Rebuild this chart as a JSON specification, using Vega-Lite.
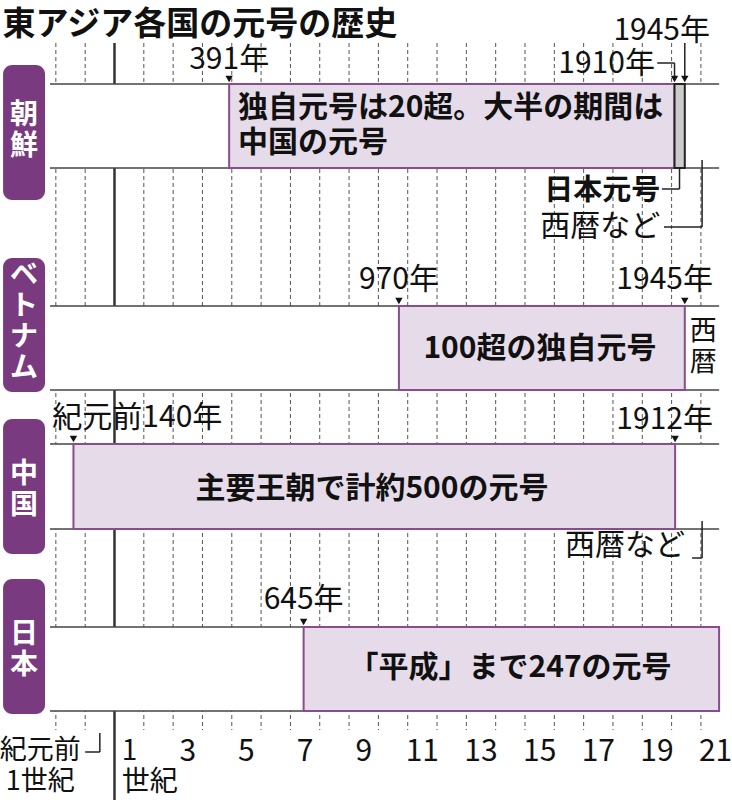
{
  "$schema": "https://vega.github.io/schema/vega-lite/v6.json",
  "width": 732,
  "height": 800,
  "autosize": {"type": "none"},
  "padding": 0,
  "background": "white",
  "config": {"view": {"stroke": null}, "font": "Noto Sans CJK JP"},
  "datasets": {
    "gridlines": [
      {"year": -200, "lane": 43, "lane_end": 730}, {"year": -100, "lane": 43, "lane_end": 730},
      {"year": 100, "lane": 43, "lane_end": 730}, {"year": 200, "lane": 43, "lane_end": 730},
      {"year": 300, "lane": 43, "lane_end": 730}, {"year": 400, "lane": 43, "lane_end": 730},
      {"year": 500, "lane": 43, "lane_end": 730}, {"year": 600, "lane": 43, "lane_end": 730},
      {"year": 700, "lane": 43, "lane_end": 730}, {"year": 800, "lane": 43, "lane_end": 730},
      {"year": 900, "lane": 43, "lane_end": 730}, {"year": 1000, "lane": 43, "lane_end": 730},
      {"year": 1100, "lane": 43, "lane_end": 730}, {"year": 1200, "lane": 43, "lane_end": 730},
      {"year": 1300, "lane": 43, "lane_end": 730}, {"year": 1400, "lane": 43, "lane_end": 730},
      {"year": 1500, "lane": 43, "lane_end": 730}, {"year": 1600, "lane": 43, "lane_end": 730},
      {"year": 1700, "lane": 43, "lane_end": 730}, {"year": 1800, "lane": 43, "lane_end": 730},
      {"year": 1900, "lane": 43, "lane_end": 730}, {"year": 2000, "lane": 43, "lane_end": 730}
    ],
    "epoch": [{"year": 0, "lane": 43, "lane_end": 800}],
    "bands": [
      {"country": "朝鮮", "year": -220, "year_end": 2062, "lane": 84, "lane_end": 168},
      {"country": "ベトナム", "year": -220, "year_end": 2062, "lane": 306, "lane_end": 390},
      {"country": "中国", "year": -220, "year_end": 2062, "lane": 444, "lane_end": 529},
      {"country": "日本", "year": -220, "year_end": 2062, "lane": 627, "lane_end": 711}
    ],
    "band_lines": [
      {"year": -220, "year_end": 2062, "lane": 84}, {"year": -220, "year_end": 2062, "lane": 168},
      {"year": -220, "year_end": 2062, "lane": 306}, {"year": -220, "year_end": 2062, "lane": 390},
      {"year": -220, "year_end": 2062, "lane": 444}, {"year": -220, "year_end": 2062, "lane": 529},
      {"year": -220, "year_end": 2062, "lane": 627}, {"year": -220, "year_end": 2062, "lane": 711}
    ],
    "eras": [
      {"country": "朝鮮", "kind": "元号", "year": 391, "year_end": 1910, "lane": 84, "lane_end": 168},
      {"country": "朝鮮", "kind": "日本元号", "year": 1910, "year_end": 1945, "lane": 84, "lane_end": 168},
      {"country": "ベトナム", "kind": "元号", "year": 970, "year_end": 1945, "lane": 306, "lane_end": 390},
      {"country": "中国", "kind": "元号", "year": -140, "year_end": 1912, "lane": 444, "lane_end": 529},
      {"country": "日本", "kind": "元号", "year": 645, "year_end": 2062, "lane": 627, "lane_end": 711}
    ],
    "country_boxes": [
      {"country": "朝鮮", "year": -380, "year_end": -237, "lane": 65, "lane_end": 200},
      {"country": "ベトナム", "year": -380, "year_end": -237, "lane": 258, "lane_end": 392},
      {"country": "中国", "year": -380, "year_end": -237, "lane": 419, "lane_end": 554},
      {"country": "日本", "year": -380, "year_end": -237, "lane": 579, "lane_end": 714}
    ],
    "country_labels": [
      {"text": "朝\n鮮", "year": -308.7, "lane": 116},
      {"text": "ベ\nト\nナ\nム", "year": -308.7, "lane": 276},
      {"text": "中\n国", "year": -308.7, "lane": 474.5},
      {"text": "日\n本", "year": -308.7, "lane": 634.5}
    ],
    "markers": [
      {"year": 391, "lane": 79}, {"year": 1910, "lane": 79}, {"year": 1945, "lane": 79},
      {"year": 970, "lane": 301}, {"year": 1945, "lane": 301},
      {"year": -140, "lane": 439}, {"year": 1912, "lane": 439},
      {"year": 645, "lane": 622}
    ],
    "leaders": [
      {"year": 1851, "year_end": 1910, "lane": 63, "lane_end": 63},
      {"year": 1910, "year_end": 1910, "lane": 63, "lane_end": 76},
      {"year": 1945, "year_end": 1945, "lane": 43, "lane_end": 76},
      {"year": 1927, "year_end": 1927, "lane": 168, "lane_end": 189},
      {"year": 1867, "year_end": 1927, "lane": 189, "lane_end": 189},
      {"year": 2004, "year_end": 2004, "lane": 160, "lane_end": 227},
      {"year": 1874, "year_end": 2004, "lane": 227, "lane_end": 227},
      {"year": 2004, "year_end": 2004, "lane": 521, "lane_end": 558},
      {"year": 1970, "year_end": 2004, "lane": 558, "lane_end": 558},
      {"year": -50, "year_end": -50, "lane": 733, "lane_end": 752},
      {"year": -100, "year_end": -50, "lane": 752, "lane_end": 752}
    ],
    "notes_center": [
      {"text": "391年", "year": 391, "lane": 60},
      {"text": "970年", "year": 970, "lane": 280},
      {"text": "645年", "year": 645, "lane": 600},
      {"text": "3", "year": 250, "lane": 752},
      {"text": "5", "year": 450, "lane": 752}, {"text": "7", "year": 650, "lane": 752},
      {"text": "9", "year": 850, "lane": 752}, {"text": "11", "year": 1050, "lane": 752},
      {"text": "13", "year": 1250, "lane": 752}, {"text": "15", "year": 1450, "lane": 752},
      {"text": "17", "year": 1650, "lane": 752}, {"text": "19", "year": 1850, "lane": 752},
      {"text": "21", "year": 2050, "lane": 752}
    ],
    "small_center": [
      {"text": "西\n暦", "year": 2008, "lane": 332},
      {"text": "紀元前\n1世紀", "year": -253, "lane": 751}
    ],
    "small_left": [
      {"text": "1\n世紀", "year": 25, "lane": 752}
    ],
    "notes_left": [
      {"text": "紀元前140年", "year": -212, "lane": 418}
    ],
    "notes_right": [
      {"text": "1945年", "year": 2031, "lane": 31},
      {"text": "1910年", "year": 1843, "lane": 64},
      {"text": "1945年", "year": 2041, "lane": 280},
      {"text": "1912年", "year": 2041, "lane": 420},
      {"text": "西暦など", "year": 1861, "lane": 227},
      {"text": "西暦など", "year": 1946, "lane": 546}
    ],
    "era_text_center": [
      {"text": "100超の独自元号", "year": 1451, "lane": 349},
      {"text": "主要王朝で計約500の元号", "year": 878, "lane": 489},
      {"text": "「平成」まで247の元号", "year": 1349, "lane": 668}
    ],
    "era_text_left": [
      {"text": "独自元号は20超。大半の期間は\n中国の元号", "year": 421, "lane": 108}
    ],
    "era_text_right": [
      {"text": "日本元号", "year": 1861, "lane": 191}
    ],
    "title": [
      {"text": "東アジア各国の元号の歴史", "year": -382, "lane": 25}
    ]
  },
  "encoding": {
    "x": {"field": "year", "type": "quantitative", "scale": {"domain": [-390.5, 2106], "nice": false, "zero": false}, "axis": null},
    "y": {"field": "lane", "type": "quantitative", "scale": {"domain": [0, 800], "reverse": true, "nice": false, "zero": false}, "axis": null}
  },
  "layer": [
    {
      "data": {"name": "gridlines"},
      "mark": {"type": "rule", "color": "#555555", "strokeWidth": 1, "strokeDash": [4, 3]},
      "encoding": {"y2": {"field": "lane_end"}}
    },
    {
      "data": {"name": "epoch"},
      "mark": {"type": "rule", "color": "#333333", "strokeWidth": 2.5},
      "encoding": {"y2": {"field": "lane_end"}}
    },
    {
      "data": {"name": "bands"},
      "mark": {"type": "rect", "fill": "white"},
      "encoding": {"x2": {"field": "year_end"}, "y2": {"field": "lane_end"}}
    },
    {
      "data": {"name": "band_lines"},
      "mark": {"type": "rule", "color": "#444444", "strokeWidth": 1.5},
      "encoding": {"x2": {"field": "year_end"}}
    },
    {
      "data": {"name": "eras"},
      "mark": {"type": "rect", "strokeWidth": 2},
      "encoding": {
        "x2": {"field": "year_end"},
        "y2": {"field": "lane_end"},
        "color": {"field": "kind", "type": "nominal", "scale": {"domain": ["元号", "日本元号"], "range": ["#e6dbe9", "#cccccc"]}, "legend": null},
        "stroke": {"field": "kind", "type": "nominal", "scale": {"domain": ["元号", "日本元号"], "range": ["#8a4c8e", "#222222"]}, "legend": null}
      }
    },
    {
      "data": {"name": "country_boxes"},
      "mark": {"type": "rect", "fill": "#7a3a7f", "cornerRadius": 9},
      "encoding": {"x2": {"field": "year_end"}, "y2": {"field": "lane_end"}}
    },
    {
      "data": {"name": "country_labels"},
      "mark": {"type": "text", "color": "white", "fontSize": 28, "fontWeight": "bold", "align": "center", "baseline": "middle", "lineBreak": "\n", "lineHeight": 31},
      "encoding": {"text": {"field": "text"}}
    },
    {
      "data": {"name": "leaders"},
      "mark": {"type": "rule", "color": "#222222", "strokeWidth": 1.5},
      "encoding": {"x2": {"field": "year_end"}, "y2": {"field": "lane_end"}}
    },
    {
      "data": {"name": "markers"},
      "mark": {"type": "point", "shape": "triangle-down", "filled": true, "size": 55, "color": "#111111", "opacity": 1},
      "encoding": {}
    },
    {
      "data": {"name": "notes_center"},
      "mark": {"type": "text", "color": "#111111", "fontSize": 30, "align": "center", "baseline": "middle"},
      "encoding": {"text": {"field": "text"}}
    },
    {
      "data": {"name": "small_center"},
      "mark": {"type": "text", "color": "#111111", "fontSize": 27, "align": "center", "baseline": "middle", "lineBreak": "\n", "lineHeight": 31},
      "encoding": {"text": {"field": "text"}}
    },
    {
      "data": {"name": "small_left"},
      "mark": {"type": "text", "color": "#111111", "fontSize": 28, "align": "left", "baseline": "middle", "lineBreak": "\n", "lineHeight": 31},
      "encoding": {"text": {"field": "text"}}
    },
    {
      "data": {"name": "notes_left"},
      "mark": {"type": "text", "color": "#111111", "fontSize": 30, "align": "left", "baseline": "middle"},
      "encoding": {"text": {"field": "text"}}
    },
    {
      "data": {"name": "notes_right"},
      "mark": {"type": "text", "color": "#111111", "fontSize": 30, "align": "right", "baseline": "middle"},
      "encoding": {"text": {"field": "text"}}
    },
    {
      "data": {"name": "era_text_center"},
      "mark": {"type": "text", "color": "#111111", "fontSize": 30, "fontWeight": "bold", "align": "center", "baseline": "middle"},
      "encoding": {"text": {"field": "text"}}
    },
    {
      "data": {"name": "era_text_left"},
      "mark": {"type": "text", "color": "#111111", "fontSize": 30, "fontWeight": "bold", "align": "left", "baseline": "middle", "lineBreak": "\n", "lineHeight": 35},
      "encoding": {"text": {"field": "text"}}
    },
    {
      "data": {"name": "era_text_right"},
      "mark": {"type": "text", "color": "#111111", "fontSize": 29, "fontWeight": "bold", "align": "right", "baseline": "middle"},
      "encoding": {"text": {"field": "text"}}
    },
    {
      "data": {"name": "title"},
      "mark": {"type": "text", "color": "#111111", "fontSize": 33, "fontWeight": "bold", "align": "left", "baseline": "middle"},
      "encoding": {"text": {"field": "text"}}
    }
  ]
}
